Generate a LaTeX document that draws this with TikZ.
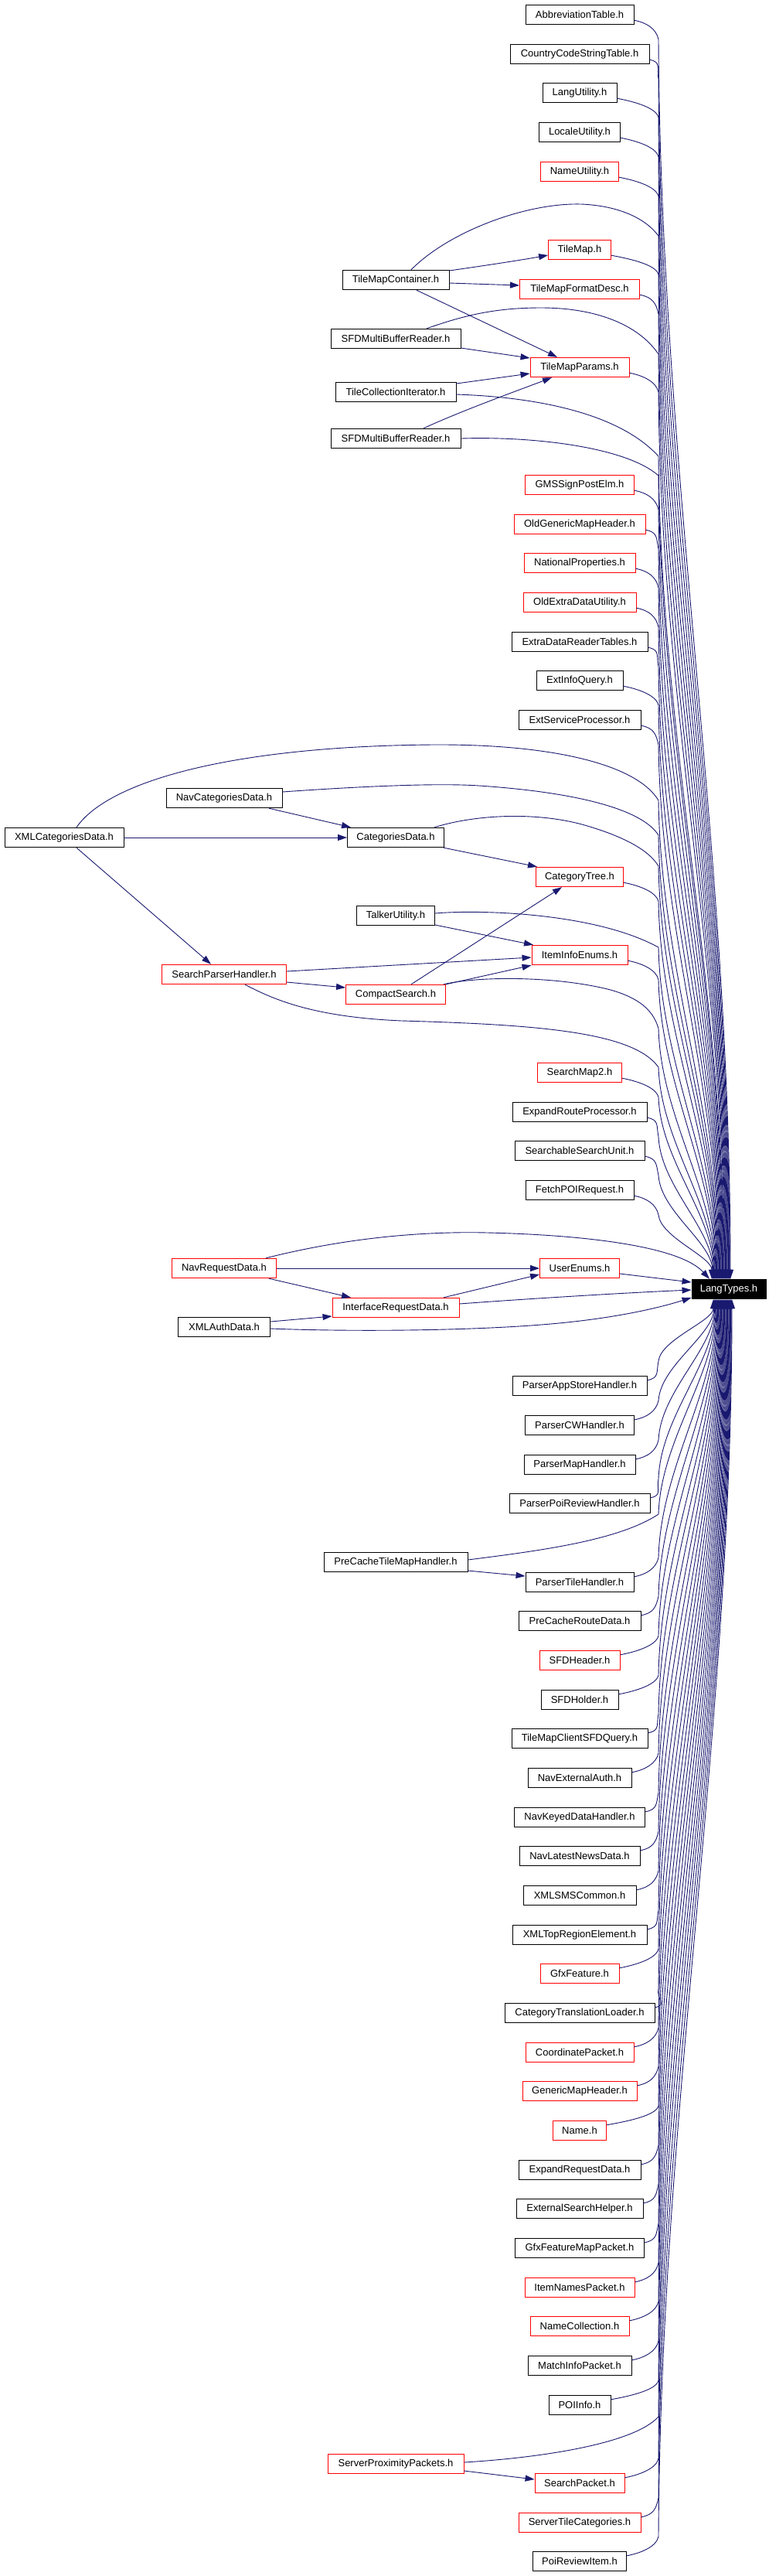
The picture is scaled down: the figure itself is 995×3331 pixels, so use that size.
\documentclass[tikz,border=0pt]{standalone}
\usepackage{fontspec}
\setmainfont{Liberation Sans}
\usetikzlibrary{arrows.meta,calc}
\definecolor{edgec}{RGB}{25,25,112}
\definecolor{redb}{RGB}{255,0,0}
\begin{document}
\begin{tikzpicture}[x=1pt,y=1pt,
  nbox/.style={draw=black, line width=0.9pt, minimum height=25.5pt, inner sep=0pt, font=\fontsize{13}{15}\selectfont, text=black},
  rnbox/.style={nbox, draw=redb},
  dep/.style={draw=edgec, line width=0.9pt, -{Triangle[length=12pt,width=8pt]}},
  lng/.style={to path={let \p1=(\tikztostart), \p2=(\tikztotarget) in .. controls ({\x1+3pt},{\y1+0.35*(\y2-(\y1))}) and (\x2,{\y2-0.35*(\y2-(\y1))}) .. (\tikztotarget)}}
]
\fill[white] (0,0) rectangle (995,-3331);
\useasboundingbox (0,0) rectangle (995,-3331);

% right column
\node[nbox,minimum width=140pt] (abbr) at (750,-19) {AbbreviationTable.h};
\node[nbox,minimum width=180pt] (ccst) at (750,-70) {CountryCodeStringTable.h};
\node[nbox,minimum width=96pt] (langu) at (750,-120) {LangUtility.h};
\node[nbox,minimum width=105pt] (locu) at (750,-171) {LocaleUtility.h};
\node[rnbox,minimum width=101pt] (nameu) at (750,-222) {NameUtility.h};
\node[rnbox,minimum width=81pt] (tmap) at (750,-323) {TileMap.h};
\node[rnbox,minimum width=155pt] (tmfd) at (750,-374) {TileMapFormatDesc.h};
\node[rnbox,minimum width=128pt] (tmp) at (750,-475) {TileMapParams.h};
\node[rnbox,minimum width=141pt] (gms) at (750,-627) {GMSSignPostElm.h};
\node[rnbox,minimum width=170pt] (ogmh) at (750,-678) {OldGenericMapHeader.h};
\node[rnbox,minimum width=144pt] (natp) at (750,-728) {NationalProperties.h};
\node[rnbox,minimum width=146pt] (oedu) at (750,-779) {OldExtraDataUtility.h};
\node[nbox,minimum width=176pt] (edrt) at (750,-830) {ExtraDataReaderTables.h};
\node[nbox,minimum width=112pt] (eiq) at (750,-880) {ExtInfoQuery.h};
\node[nbox,minimum width=158pt] (esp) at (750,-931) {ExtServiceProcessor.h};
\node[rnbox,minimum width=113pt] (ctree) at (750,-1134) {CategoryTree.h};
\node[rnbox,minimum width=124pt] (iie) at (750,-1235) {ItemInfoEnums.h};
\node[rnbox,minimum width=109pt] (sm2) at (750,-1387) {SearchMap2.h};
\node[nbox,minimum width=174pt] (erp) at (750,-1438) {ExpandRouteProcessor.h};
\node[nbox,minimum width=168pt] (ssu) at (750,-1488) {SearchableSearchUnit.h};
\node[nbox,minimum width=140pt] (fpr) at (750,-1539) {FetchPOIRequest.h};
\node[rnbox,minimum width=103pt] (uenum) at (750,-1640) {UserEnums.h};
\node[nbox,minimum width=174pt] (pash) at (750,-1792) {ParserAppStoreHandler.h};
\node[nbox,minimum width=141pt] (pcw) at (750,-1843) {ParserCWHandler.h};
\node[nbox,minimum width=144pt] (pmh) at (750,-1894) {ParserMapHandler.h};
\node[nbox,minimum width=182pt] (pprh) at (750,-1944) {ParserPoiReviewHandler.h};
\node[nbox,minimum width=140pt] (pth) at (750,-2046) {ParserTileHandler.h};
\node[nbox,minimum width=158pt] (pcrd) at (750,-2096) {PreCacheRouteData.h};
\node[rnbox,minimum width=104pt] (sfdh) at (750,-2147) {SFDHeader.h};
\node[nbox,minimum width=100pt] (sfdhold) at (750,-2198) {SFDHolder.h};
\node[nbox,minimum width=176pt] (tmcq) at (750,-2248) {TileMapClientSFDQuery.h};
\node[nbox,minimum width=134pt] (nea) at (750,-2299) {NavExternalAuth.h};
\node[nbox,minimum width=169pt] (nkdh) at (750,-2350) {NavKeyedDataHandler.h};
\node[nbox,minimum width=156pt] (nlnd) at (750,-2400) {NavLatestNewsData.h};
\node[nbox,minimum width=146pt] (xsms) at (750,-2451) {XMLSMSCommon.h};
\node[nbox,minimum width=174pt] (xtre) at (750,-2502) {XMLTopRegionElement.h};
\node[rnbox,minimum width=102pt] (gfx) at (750,-2552) {GfxFeature.h};
\node[nbox,minimum width=194pt] (ctl) at (750,-2603) {CategoryTranslationLoader.h};
\node[rnbox,minimum width=140pt] (cp) at (750,-2654) {CoordinatePacket.h};
\node[rnbox,minimum width=148pt] (gmh) at (750,-2704) {GenericMapHeader.h};
\node[rnbox,minimum width=69pt] (nameh) at (750,-2755) {Name.h};
\node[nbox,minimum width=158pt] (erd) at (750,-2806) {ExpandRequestData.h};
\node[nbox,minimum width=164pt] (esh) at (750,-2856) {ExternalSearchHelper.h};
\node[nbox,minimum width=167pt] (gfmp) at (750,-2907) {GfxFeatureMapPacket.h};
\node[rnbox,minimum width=142pt] (inp) at (750,-2958) {ItemNamesPacket.h};
\node[rnbox,minimum width=128pt] (nc) at (750,-3008) {NameCollection.h};
\node[nbox,minimum width=134pt] (mip) at (750,-3059) {MatchInfoPacket.h};
\node[nbox,minimum width=80pt] (poii) at (750,-3110) {POIInfo.h};
\node[rnbox,minimum width=116pt] (sp) at (750,-3211) {SearchPacket.h};
\node[rnbox,minimum width=158pt] (stc) at (750,-3262) {ServerTileCategories.h};
\node[nbox,minimum width=121pt] (pri) at (750,-3312) {PoiReviewItem.h};

% middle column
\node[nbox,minimum width=138pt] (tmc) at (512,-362) {TileMapContainer.h};
\node[nbox,minimum width=168pt] (sfd1) at (512,-438) {SFDMultiBufferReader.h};
\node[nbox,minimum width=156pt] (tci) at (512,-507) {TileCollectionIterator.h};
\node[nbox,minimum width=168pt] (sfd2) at (512,-567) {SFDMultiBufferReader.h};
\node[nbox,minimum width=125pt] (catd) at (512,-1083) {CategoriesData.h};
\node[nbox,minimum width=101pt] (talk) at (512,-1184) {TalkerUtility.h};
\node[rnbox,minimum width=129pt] (cs) at (512,-1286) {CompactSearch.h};
\node[rnbox,minimum width=164pt] (ird) at (512,-1691) {InterfaceRequestData.h};
\node[nbox,minimum width=186pt] (pctmh) at (512,-2020) {PreCacheTileMapHandler.h};
\node[rnbox,minimum width=176pt] (spp) at (512,-3186) {ServerProximityPackets.h};

% left columns
\node[nbox,minimum width=150pt] (navcat) at (290,-1032) {NavCategoriesData.h};
\node[rnbox,minimum width=161pt] (sph) at (290,-1260) {SearchParserHandler.h};
\node[rnbox,minimum width=135pt] (navreq) at (290,-1640) {NavRequestData.h};
\node[nbox,minimum width=119pt] (xauth) at (290,-1716) {XMLAuthData.h};
\node[nbox,minimum width=154pt] (xmlcat) at (83,-1083) {XMLCategoriesData.h};

% target
\node[nbox,fill=black,text=white,minimum width=96pt] (L) at (943,-1667) {LangTypes.h};

% right column nodes above LangTypes
\foreach \n/\Y/\s in {abbr/19/2, ccst/70/1.2, langu/120/0.4, locu/171/-0.4, nameu/222/-1.2,
  tmap/323/-2.8, tmfd/374/-3.6, tmp/475/-5.2, gms/627/-7.6, ogmh/678/-8.4, natp/728/-9.2,
  oedu/779/-10, edrt/830/-10.8, eiq/880/-11.6, esp/931/-12.4, ctree/1134/-15.6, iie/1235/-17.2,
  sm2/1387/-19.6, erp/1438/-20.4, ssu/1488/-21.2, fpr/1539/-22}
{\draw[dep] ([yshift=6pt]\n.south east) .. controls +(16pt,-3pt) and (849,{-\Y-18}) .. (852,{-\Y-32}) to[lng] ([xshift=\s pt]L.north);}

% right column nodes below LangTypes
\foreach \n/\Y/\s in {pash/1792/-20, pcw/1843/-19.2, pmh/1894/-18.4, pprh/1944/-17.6,
  pth/2046/-16, pcrd/2096/-15.2, sfdh/2147/-14.4, sfdhold/2198/-13.6, tmcq/2248/-12.8,
  nea/2299/-12, nkdh/2350/-11.2, nlnd/2400/-10.4, xsms/2451/-9.6, xtre/2502/-8.8,
  gfx/2552/-8, ctl/2603/-7.2, cp/2654/-6.4, gmh/2704/-5.6, nameh/2755/-4.8, erd/2806/-4,
  esh/2856/-3.2, gfmp/2907/-2.4, inp/2958/-1.6, nc/3008/-0.8, mip/3059/0, poii/3110/0.8,
  sp/3211/2.4, stc/3262/3.2, pri/3312/4}
{\draw[dep] ([yshift=-6pt]\n.north east) .. controls +(16pt,3pt) and (849,{-\Y+18}) .. (852,{-\Y+32}) to[lng] ([xshift=\s pt]L.south);}

% other nodes to LangTypes
\draw[dep] ([xshift=20pt]tmc.north) .. controls (580,-300) and (680,-262) .. (752,-264) .. controls (800,-266) and (835,-282) .. (852,-305) to[lng] ([xshift=-2pt]L.north);
\draw[dep] ([xshift=40pt]sfd1.north) .. controls (600,-408) and (640,-398) .. (700,-398) .. controls (780,-398) and (830,-425) .. (852,-458) to[lng] ([xshift=-4.4pt]L.north);
\draw[dep] ([yshift=-3pt]tci.east) .. controls (650,-512) and (790,-522) .. (852,-590) to[lng] ([xshift=-6pt]L.north);
\draw[dep] (sfd2.east) .. controls (690,-564) and (810,-578) .. (852,-615) to[lng] ([xshift=-6.8pt]L.north);
\draw[dep] ([xshift=16pt]xmlcat.north) .. controls (140,-1010) and (300,-965) .. (560,-963) .. controls (720,-962) and (825,-990) .. (852,-1035) to[lng] ([xshift=-13.2pt]L.north);
\draw[dep] ([yshift=8pt]navcat.east) .. controls (450,-1018) and (560,-1012) .. (620,-1016) .. controls (740,-1024) and (830,-1045) .. (852,-1080) to[lng] ([xshift=-14pt]L.north);
\draw[dep] ([xshift=50pt]catd.north) .. controls (620,-1052) and (700,-1050) .. (760,-1068) .. controls (810,-1083) and (840,-1100) .. (852,-1120) to[lng] ([xshift=-14.8pt]L.north);
\draw[dep] ([yshift=3pt]talk.east) .. controls (620,-1176) and (770,-1180) .. (852,-1225) to[lng] ([xshift=-16.4pt]L.north);
\draw[dep] ([xshift=62pt]cs.north) .. controls (620,-1262) and (720,-1262) .. (790,-1280) .. controls (825,-1290) and (845,-1305) .. (852,-1330) to[lng] ([xshift=-18pt]L.north);
\draw[dep] ([xshift=27pt]sph.south) .. controls (350,-1290) and (400,-1315) .. (520,-1320) .. controls (700,-1325) and (820,-1335) .. (852,-1380) to[lng] ([xshift=-18.8pt]L.north);
\draw[dep] ([xshift=54pt]navreq.north) .. controls (450,-1600) and (550,-1592) .. (631,-1594) .. controls (760,-1597) and (880,-1612) .. ([xshift=-25pt]L.north);
\draw[dep] ([yshift=5pt]ird.east) .. controls (660,-1681) and (800,-1672) .. ([yshift=-1pt]L.west);
\draw[dep] ([yshift=-2pt]xauth.east) .. controls (450,-1722) and (600,-1721) .. (700,-1713) .. controls (790,-1706) and (850,-1692) .. ([yshift=-11pt]L.west);
\draw[dep] ([yshift=-7pt]uenum.east) -- ([yshift=9pt]L.west);
\draw[dep] ([yshift=3pt]pctmh.east) .. controls (700,-2005) and (800,-1992) .. (852,-1958) to[lng] ([xshift=-16.8pt]L.south);
\draw[dep] ([yshift=2pt]spp.east) .. controls (700,-3178) and (820,-3160) .. (852,-3125) to[lng] ([xshift=1.6pt]L.south);

% remaining dependencies
\draw[dep] ([yshift=12pt]tmc.east) .. controls (630,-343) and (670,-337) .. ([yshift=-7pt]tmap.west);
\draw[dep] ([yshift=-4pt]tmc.east) -- ([yshift=5pt]tmfd.west);
\draw[dep] ([xshift=27pt]tmc.south) -- ([xshift=-29pt]tmp.north);
\draw[dep] ([yshift=-12pt]sfd1.east) -- ([yshift=12pt]tmp.west);
\draw[dep] ([yshift=11pt]tci.east) -- ([yshift=-8pt]tmp.west);
\draw[dep] ([xshift=36pt]sfd2.north) .. controls (600,-530) and (670,-505) .. ([xshift=-36pt]tmp.south);
\draw[dep] (xmlcat.east) -- (catd.west);
\draw[dep] ([xshift=16pt]xmlcat.south) -- ([xshift=-17pt]sph.north);
\draw[dep] ([xshift=58pt]navcat.south) -- ([xshift=-58pt]catd.north);
\draw[dep] ([xshift=62pt]catd.south) -- ([xshift=-55pt]ctree.north);
\draw[dep] ([yshift=-12pt]talk.east) -- ([xshift=-60pt]iie.north);
\draw[dep] ([yshift=4pt]sph.east) -- ([yshift=-3pt]iie.west);
\draw[dep] ([yshift=-10pt]sph.east) -- ([yshift=9pt]cs.west);
\draw[dep] ([xshift=20pt]cs.north) -- ([xshift=-23pt]ctree.south);
\draw[dep] (cs.north east) -- (iie.south west);
\draw[dep] (navreq.east) -- (uenum.west);
\draw[dep] ([xshift=58pt]navreq.south) -- ([xshift=-58pt]ird.north);
\draw[dep] ([xshift=62pt]ird.north) -- ([yshift=-8pt]uenum.west);
\draw[dep] ([yshift=7pt]xauth.east) -- ([yshift=-11pt]ird.west);
\draw[dep] ([yshift=-11pt]pctmh.east) -- ([yshift=8pt]pth.west);
\draw[dep] ([yshift=-9pt]spp.east) -- ([yshift=5pt]sp.west);
\end{tikzpicture}
\end{document}
